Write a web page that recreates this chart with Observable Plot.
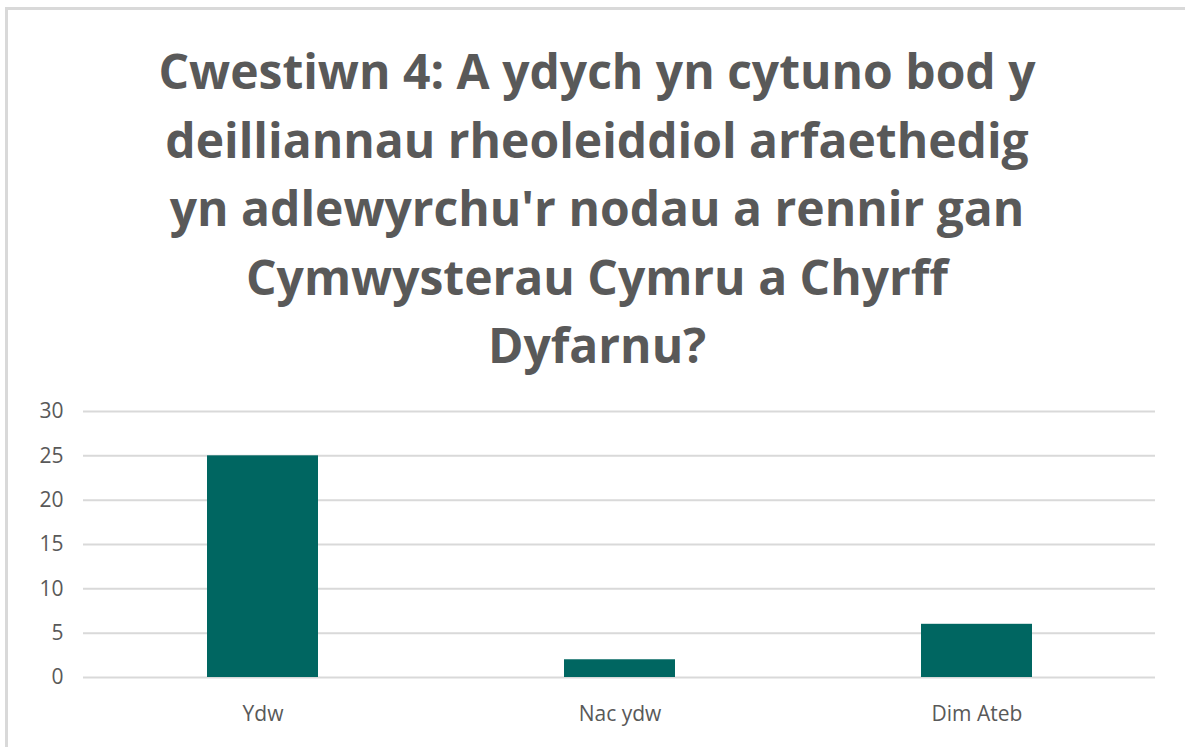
<!DOCTYPE html>
<html>
<head>
<meta charset="utf-8">
<script src="https://cdn.jsdelivr.net/npm/d3@7"></script>
<script src="https://cdn.jsdelivr.net/npm/@observablehq/plot@0.6"></script>
<style>
  html, body { margin: 0; padding: 0; background: #fff; }
  body { width: 1185px; height: 747px; overflow: hidden; position: relative; font-family: "Open Sans", "Noto Sans", sans-serif; }
  #frame { position: absolute; left: 5px; top: 7px; width: 1200px; height: 760px; border-left: 3px solid #d9d9d9; border-top: 3px solid #d9d9d9; box-sizing: border-box; }
  #title { position: absolute; left: 0; top: 37px; width: 1194px; text-align: center; font-weight: 700; font-size: 48px; line-height: 68.5px; color: #595959; }
  #chart { position: absolute; left: 0; top: 390px; }
</style>
</head>
<body>
<div id="frame"></div>
<div id="title">Cwestiwn 4: A ydych yn cytuno bod y<br>deilliannau rheoleiddiol arfaethedig<br>yn adlewyrchu'r nodau a rennir gan<br>Cymwysterau Cymru a Chyrff<br>Dyfarnu?</div>
<div id="chart"></div>
<script>
const categories = ["Ydw", "Nac ydw", "Dim Ateb"];
const counts = [25, 2, 6];
const yTicks = [0, 5, 10, 15, 20, 25, 30];

const data = categories.map((c, i) => ({category: c, count: counts[i]}));

const chart = Plot.plot({
  width: 1185,
  height: 357,
  marginTop: 21,
  marginBottom: 70,
  marginLeft: 83,
  marginRight: 30,
  style: {fontFamily: "'Open Sans', 'Noto Sans', sans-serif", fontSize: "21px", color: "#595959", background: "transparent"},
  x: {domain: categories, paddingInner: 0.69, paddingOuter: 0.345, label: null, tickSize: 0, tickPadding: 29},
  y: {domain: [0, 30], ticks: yTicks, label: null, tickSize: 0, tickPadding: 20},
  marks: [
    Plot.gridY(yTicks, {stroke: "#d9d9d9", strokeWidth: 2, strokeOpacity: 1}),
    Plot.barY(data, {x: "category", y: "count", fill: "#006661"})
  ]
});
document.getElementById("chart").appendChild(chart);
</script>
</body>
</html>
